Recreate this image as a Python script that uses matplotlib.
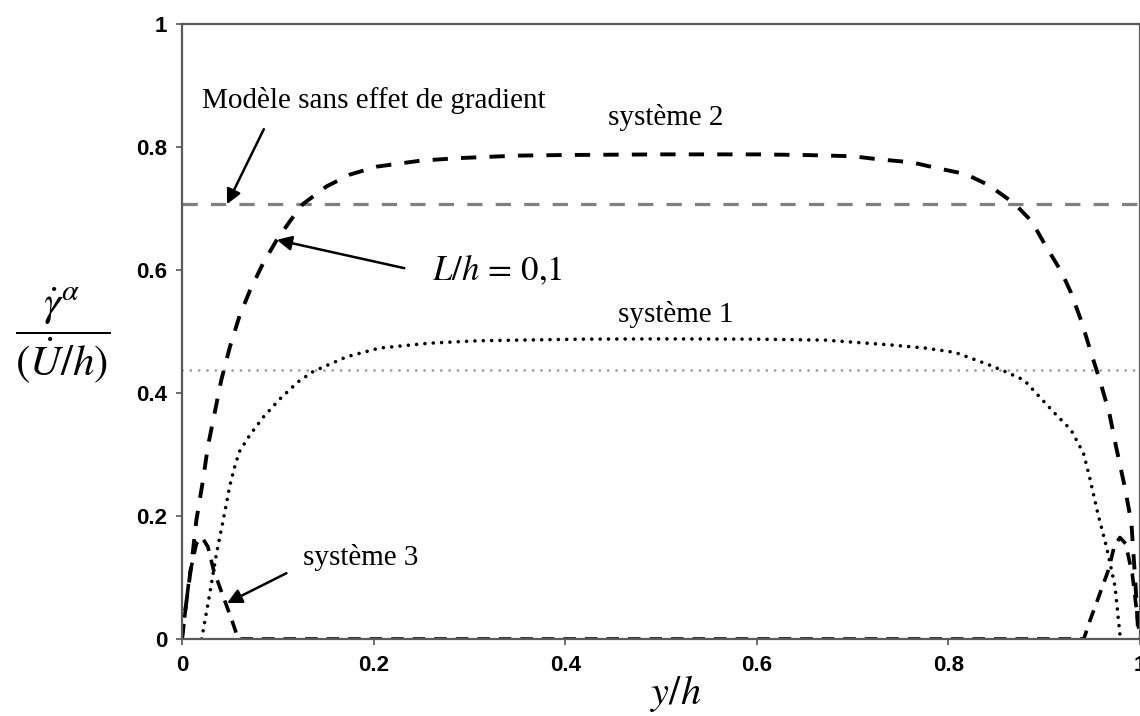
import matplotlib
matplotlib.use("Agg")
import matplotlib.pyplot as plt

plt.rcParams['mathtext.fontset'] = 'stix'
plt.rcParams['lines.scale_dashes'] = False

# ---- data ----
s2_x = [0, 0.003, 0.010, 0.015, 0.022, 0.027, 0.034, 0.041, 0.050, 0.060, 0.071, 0.085,
        0.099, 0.113, 0.126, 0.151, 0.175, 0.203, 0.25, 0.29, 0.35, 0.40, 0.50, 0.60,
        0.65, 0.70, 0.727, 0.762, 0.79, 0.818, 0.842, 0.869, 0.887, 0.902, 0.918, 0.928,
        0.939, 0.949, 0.958, 0.968, 0.975, 0.984, 0.991, 0.995, 0.9985]
s2_y = [0, 0.042, 0.123, 0.193, 0.259, 0.313, 0.367, 0.421, 0.475, 0.525, 0.567, 0.612,
        0.649, 0.680, 0.707, 0.736, 0.755, 0.768, 0.778, 0.782, 0.786, 0.787, 0.788, 0.788,
        0.787, 0.785, 0.780, 0.775, 0.765, 0.756, 0.738, 0.708, 0.679, 0.638, 0.597, 0.563,
        0.516, 0.465, 0.421, 0.367, 0.313, 0.248, 0.189, 0.096, 0]

s1_x = [0.0205, 0.029, 0.036, 0.043, 0.050, 0.055, 0.060, 0.071, 0.085, 0.102, 0.121,
        0.137, 0.172, 0.206, 0.258, 0.31, 0.415, 0.50, 0.60, 0.671, 0.741, 0.776, 0.807,
        0.842, 0.859, 0.879, 0.911, 0.928, 0.941, 0.948, 0.956, 0.965, 0.974, 0.9795]
s1_y = [0, 0.074, 0.139, 0.193, 0.250, 0.280, 0.305, 0.332, 0.361, 0.390, 0.418,
        0.435, 0.459, 0.473, 0.481, 0.485, 0.4875, 0.488, 0.4875, 0.486, 0.478, 0.473, 0.466,
        0.446, 0.435, 0.421, 0.367, 0.340, 0.302, 0.259, 0.204, 0.150, 0.085, 0]

s3_x = [0, 0.008, 0.015, 0.021, 0.027, 0.033, 0.043, 0.052, 0.0587, 0.5, 0.9413, 0.948,
        0.957, 0.967, 0.973, 0.979, 0.985, 0.992, 1.0]
s3_y = [0, 0.105, 0.155, 0.165, 0.150, 0.112, 0.069, 0.031, 0, 0, 0, 0.031,
        0.069, 0.112, 0.150, 0.165, 0.155, 0.105, 0]

ref_sys2 = 0.707   # modèle sans effet de gradient (système 2)
ref_sys1 = 0.437   # modèle sans effet de gradient (système 1)

xticks = [0, 0.2, 0.4, 0.6, 0.8, 1]
xticklabels = ['0', '0.2', '0.4', '0.6', '0.8', '1']
yticks = [0, 0.2, 0.4, 0.6, 0.8, 1]
yticklabels = ['0', '0.2', '0.4', '0.6', '0.8', '1']

# ---- figure ----
fig = plt.figure(figsize=(11.4, 7.16), dpi=100)
ax = fig.add_axes([182/1140, 1 - 639/716, 1 - 182/1140, (639 - 24)/716])

ax.axhline(ref_sys2, color='#808080', lw=2.3, linestyle=(0, (11, 9.5)))
ax.axhline(ref_sys1, color='#9a9a9a', lw=2.0, linestyle=(0, (0.01, 6)),
           dash_capstyle='round')

ax.plot(s2_x, s2_y, color='black', lw=2.8, linestyle=(0, (11, 9.5)))
ax.plot(s3_x, s3_y, color='black', lw=2.6, linestyle=(0, (9, 6.5)))
ax.plot(s1_x, s1_y, color='black', lw=2.6, linestyle=(0, (0.01, 6)),
        dash_capstyle='round')

ax.set_xlim(0, 1)
ax.set_ylim(0, 1)
ax.set_xticks(xticks)
ax.set_xticklabels(xticklabels)
ax.set_yticks(yticks)
ax.set_yticklabels(yticklabels)
for lab in ax.get_xticklabels() + ax.get_yticklabels():
    lab.set_fontfamily('Liberation Sans')
    lab.set_fontweight('bold')
    lab.set_fontsize(16)
ax.tick_params(direction='out', length=4.5, width=1.2, color='#555555')
ax.tick_params(axis='x', pad=7)
ax.tick_params(axis='y', pad=6)
for s in ax.spines.values():
    s.set_color('#5a5a5a')
    s.set_linewidth(1.6)

serif = 'Liberation Serif'
ax.text(0.0208, 0.863, 'Modèle sans effet de gradient', family=serif, fontsize=21,
        va='baseline', ha='left')
ax.text(0.445, 0.836, 'système 2', family=serif, fontsize=21, va='baseline', ha='left')
ax.text(0.455, 0.516, 'système 1', family=serif, fontsize=21, va='baseline', ha='left')
ax.text(0.126, 0.120, 'système 3', family=serif, fontsize=21, va='baseline', ha='left')
ax.text(0.261, 0.584, r'$L/h\,=\,0{,}1$', fontsize=25, va='baseline', ha='left')

arrow = dict(arrowstyle='-|>', color='black', lw=1.8, mutation_scale=22,
             shrinkA=0, shrinkB=0)
ax.annotate('', xy=(0.047, 0.707), xytext=(0.0854, 0.829), arrowprops=arrow)
ax.annotate('', xy=(0.099, 0.649), xytext=(0.232, 0.603), arrowprops=arrow)
ax.annotate('', xy=(0.047, 0.0585), xytext=(0.109, 0.107), arrowprops=arrow)

fig.text(676/1140, 1 - 694/716, r'$y/h$', fontsize=29, ha='center', va='center')
fig.text(63/1140, 1 - 335/716, r'$\dfrac{\dot{\gamma}^{\alpha}}{\left(\dot{U}/h\right)}$',
         fontsize=31, ha='center', va='center')

fig.savefig('out.png', dpi=100)
